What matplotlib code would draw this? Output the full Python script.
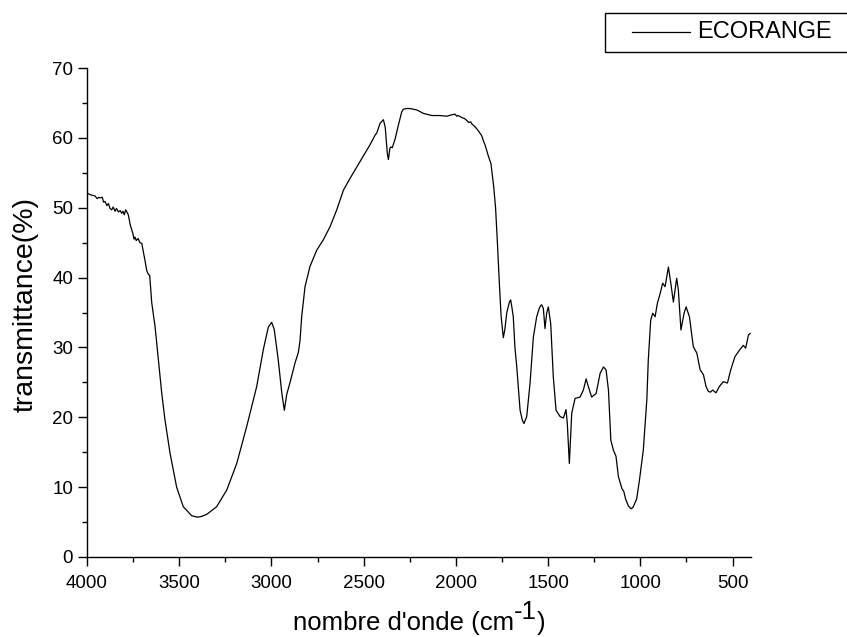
import matplotlib
matplotlib.use("Agg")
import matplotlib.pyplot as plt
from matplotlib.ticker import MultipleLocator
from matplotlib.patches import Rectangle
from matplotlib.lines import Line2D

# FTIR spectrum of the orange peel sample (wavenumber in cm-1, transmittance in %)
wavenumber = [
    4000, 3993, 3975, 3957, 3945, 3935, 3930, 3917, 3910, 3902, 3892, 3884,
    3875, 3866, 3858, 3848, 3840, 3830, 3820, 3812, 3805, 3798, 3790, 3776,
    3765, 3751, 3745, 3740, 3733, 3723, 3713, 3703, 3686, 3676, 3668, 3660,
    3649, 3631, 3613, 3595, 3577, 3550, 3514, 3478, 3432, 3400, 3380, 3351,
    3297, 3242, 3188, 3134, 3080, 3044, 3017, 2999, 2985, 2963, 2944, 2930,
    2917, 2899, 2872, 2854, 2845, 2836, 2818, 2791, 2755, 2719, 2682, 2646,
    2610, 2574, 2520, 2466, 2438, 2429, 2411, 2393, 2383, 2372, 2366, 2358,
    2352, 2345, 2330, 2312, 2294, 2285, 2267, 2249, 2212, 2176, 2131, 2086,
    2050, 2023, 2005, 1995, 1987, 1968, 1955, 1941, 1930, 1920, 1914, 1900,
    1887, 1875, 1860, 1850, 1842, 1824, 1810, 1795, 1785, 1775, 1765, 1755,
    1743, 1735, 1724, 1710, 1703, 1695, 1689, 1680, 1670, 1652, 1640, 1631,
    1616, 1598, 1580, 1562, 1548, 1540, 1535, 1526, 1517, 1508, 1499, 1486,
    1472, 1457, 1435, 1417, 1403, 1396, 1385, 1372, 1354, 1327, 1309, 1294,
    1282, 1264, 1240, 1218, 1200, 1186, 1173, 1160, 1146, 1132, 1119, 1100,
    1090, 1080, 1065, 1050, 1040, 1030, 1020, 1005, 984, 965, 957, 944,
    933, 920, 908, 893, 879, 866, 848, 835, 821, 803, 794, 780,
    763, 752, 734, 713, 694, 676, 658, 644, 631, 620, 608, 590,
    572, 550, 528, 510, 487, 463, 442, 429, 414, 405,
]
transmittance = [
    52.1, 52.0, 51.8, 51.7, 51.3, 51.5, 51.4, 51.5, 50.8, 50.9, 50.3, 50.6,
    49.9, 49.7, 50.1, 49.5, 49.9, 49.4, 49.6, 49.2, 49.5, 49.0, 49.7, 49.0,
    47.5, 46.3, 45.5, 45.8, 45.3, 45.6, 45.0, 44.9, 42.5, 41.0, 40.5, 40.3,
    36.4, 33.0, 28.2, 23.5, 19.6, 14.9, 10.0, 7.2, 5.9, 5.7, 5.8, 6.1,
    7.2, 9.6, 13.4, 18.7, 24.4, 29.7, 32.9, 33.6, 32.6, 28.2, 23.5, 21.0,
    23.3, 25.0, 27.8, 29.3, 31.0, 34.4, 38.7, 41.6, 43.9, 45.4, 47.3, 49.7,
    52.5, 54.2, 56.6, 59.0, 60.4, 60.7, 62.1, 62.6, 61.5, 57.8, 56.9, 58.5,
    58.7, 58.6, 59.8, 61.8, 63.7, 64.1, 64.2, 64.2, 64.0, 63.5, 63.2, 63.2,
    63.1, 63.3, 63.4, 63.1, 63.2, 62.9, 62.8, 62.5, 62.2, 62.3, 62.0, 61.7,
    61.3, 60.9, 60.3, 59.5, 59.0, 57.4, 56.3, 53.0, 50.0, 45.0, 39.5, 34.5,
    31.4, 32.5, 35.0, 36.5, 36.8, 35.5, 34.4, 30.0, 27.2, 21.0, 19.6, 19.1,
    20.1, 24.9, 31.5, 34.4, 35.6, 36.0, 36.1, 35.6, 32.7, 34.9, 35.8, 33.4,
    25.8, 21.0, 20.1, 19.9, 21.1, 19.1, 13.4, 20.6, 22.7, 22.9, 23.9, 25.5,
    24.4, 22.9, 23.4, 26.3, 27.2, 26.8, 23.9, 16.7, 15.3, 14.4, 11.5, 9.8,
    9.4, 8.3, 7.3, 6.9, 7.1, 7.7, 8.3, 11.0, 15.3, 22.5, 28.2, 33.9,
    34.9, 34.4, 36.3, 37.7, 39.2, 38.7, 41.5, 39.2, 36.5, 39.9, 38.2, 32.5,
    34.9, 35.8, 34.4, 30.1, 29.2, 26.8, 26.1, 24.4, 23.7, 23.6, 23.9, 23.5,
    24.4, 25.1, 24.9, 26.8, 28.7, 29.6, 30.3, 29.9, 31.8, 32.0,
]
series_name = "ECORANGE"

plt.rcParams["font.family"] = ["Liberation Sans", "DejaVu Sans"]

W, H = 847, 637
fig = plt.figure(figsize=(W / 100, H / 100), dpi=100)
ax = fig.add_axes([0.1027, 0.1256, 0.7840, 0.7676])

ax.plot(wavenumber, transmittance, color="black", lw=0.9)

ax.set_xlim(4000, 400)
ax.set_ylim(0, 70)
ax.xaxis.set_major_locator(MultipleLocator(500))
ax.xaxis.set_minor_locator(MultipleLocator(250))
ax.yaxis.set_major_locator(MultipleLocator(10))
ax.yaxis.set_minor_locator(MultipleLocator(5))

for side in ["top", "right"]:
    ax.spines[side].set_visible(False)
for side in ["left", "bottom"]:
    ax.spines[side].set_linewidth(1.0)

ax.tick_params(which="major", direction="out", length=6.5, width=1.0,
               labelsize=13.5)
ax.tick_params(which="minor", direction="out", length=3.6, width=1.0)
ax.tick_params(axis="x", which="major", pad=6.5)
ax.tick_params(axis="y", which="major", pad=3.5)

# y label
fig.text(26 / W, 1 - 305 / H, "transmittance(%)", fontsize=20.5, rotation=90,
         ha="center", va="center")

# x label with a full-size superscript: three pieces laid out side by side
xl_size = 18.5
base_y = 1 - 630 / H
renderer = fig.canvas.get_renderer()
t_main = fig.text(0, base_y, "nombre d'onde (cm", fontsize=xl_size,
                  ha="left", va="baseline")
w_main = t_main.get_window_extent(renderer).width
t_sup = fig.text(0, base_y, "-1", fontsize=xl_size, ha="left", va="baseline")
w_sup = t_sup.get_window_extent(renderer).width
t_end = fig.text(0, base_y, ")", fontsize=xl_size, ha="left", va="baseline")
w_end = t_end.get_window_extent(renderer).width
total = w_main + w_sup + w_end
x0 = (87 + 751) / 2 - total / 2
t_main.set_x(x0 / W)
t_sup.set_position(((x0 + w_main) / W, base_y + 11 / H))
t_end.set_x((x0 + w_main + w_sup) / W)

# legend box in the top right corner, running off the figure edge
fig.add_artist(Rectangle((605 / W, 1 - 52 / H), 0.3, 39 / H,
                         transform=fig.transFigure, fill=False,
                         edgecolor="black", lw=1.0))
fig.add_artist(Line2D([632 / W, 690 / W], [1 - 32 / H, 1 - 32 / H],
                      transform=fig.transFigure, color="black", lw=0.9))
fig.text(697 / W, 1 - 32 / H, series_name, fontsize=17, va="center", ha="left")

fig.savefig("out.png", dpi=100)
